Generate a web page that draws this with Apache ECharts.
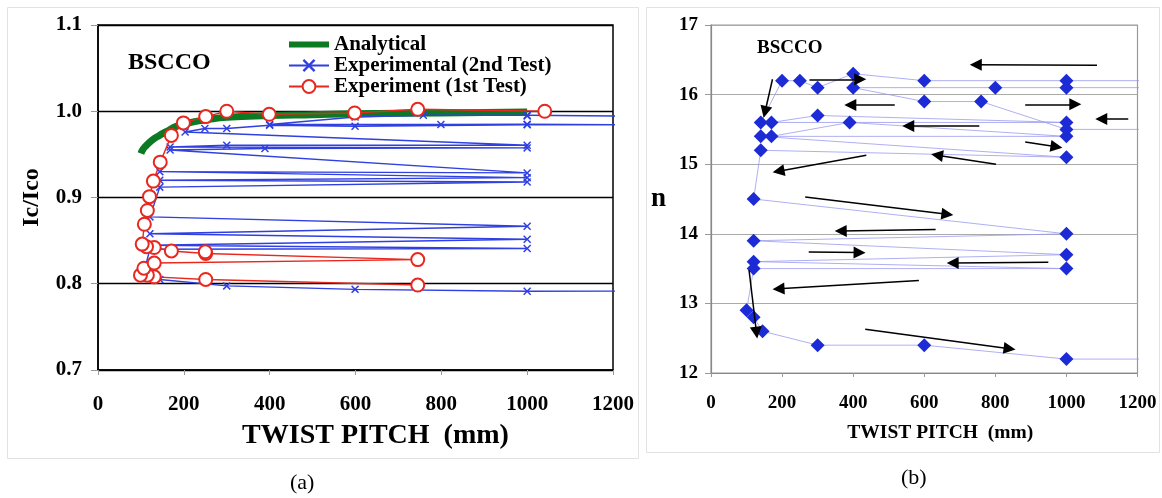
<!DOCTYPE html>
<html>
<head>
<meta charset="utf-8">
<script src="https://cdn.jsdelivr.net/npm/echarts@6/dist/echarts.min.js"></script>
<style>
  html, body { margin: 0; padding: 0; background: #fff; }
  #main { width: 1162px; height: 498px; }
</style>
</head>
<body>
<div id="main"></div>
<script>
// (a) Ic/Ico vs twist pitch
var analyticalX = [100, 105, 110, 120, 130, 140, 150, 165, 180, 200, 225, 250, 300, 400, 500, 600, 800, 1000];
var analyticalY = [0.951, 0.956, 0.959, 0.964, 0.968, 0.971, 0.974, 0.978, 0.982, 0.985, 0.988, 0.990, 0.993, 0.995, 0.996, 0.997, 0.998, 0.999];

var test2X = [1216, 1000, 599, 300, 144, 121, 106, 121, 1000, 125, 1000, 121, 1000, 121, 144, 1000, 144, 1000, 144, 1000,
  168, 389, 1000, 168, 300, 1000, 203, 249, 300, 400, 599, 1000, 1216, 1000, 799, 400, 599, 758, 1000, 1000, 1216];
var test2Y = [0.7914, 0.7913, 0.7935, 0.7975, 0.805, 0.810, 0.812, 0.840, 0.8408, 0.8447, 0.8516, 0.858, 0.8667, 0.8775, 0.912, 0.918, 0.920, 0.923, 0.930, 0.9285,
  0.955, 0.9568, 0.9575, 0.9586, 0.9606, 0.9605, 0.976, 0.980, 0.980, 0.9838, 0.9826, 0.9844, 0.9844, 0.985, 0.9846, 0.9846, 0.9934, 0.9954, 0.9954, 0.9945, 0.9945];

var test1X = [745, 251, 131, 115, 99, 107, 131, 745, 251, 250, 171, 131, 113, 103, 108, 115, 120, 129, 145, 171, 199, 251, 300, 399, 598, 745, 1041];
var test1Y = [0.7985, 0.805, 0.808, 0.810, 0.810, 0.818, 0.824, 0.828, 0.835, 0.837, 0.838, 0.842, 0.843, 0.846, 0.869, 0.885, 0.901, 0.919, 0.941, 0.972, 0.9865, 0.9938, 1.0, 0.9965, 0.998, 1.0023, 1.0];

// (b) n vs twist pitch
var nPath1X = [1218, 1000, 600, 400, 300, 250, 200, 140, 1000, 300, 170, 170, 390, 1000, 140, 1000, 140, 120, 1000, 120, 1000, 120, 1000, 120, 100, 120, 145, 300, 600, 1000, 1218];
var nPath1Y = [16.2, 16.2, 16.2, 16.3, 16.1, 16.2, 16.2, 15.6, 15.6, 15.7, 15.6, 15.4, 15.6, 15.4, 15.4, 15.1, 15.2, 14.5, 14.0, 13.9, 13.7, 13.6, 13.5, 13.5, 12.9, 12.8, 12.6, 12.4, 12.4, 12.2, 12.2];
var nPath2X = [1218, 1000, 800, 400, 600, 760, 1000, 1218];
var nPath2Y = [16.1, 16.1, 16.1, 16.1, 15.9, 15.9, 15.5, 15.5];

// arrows: [x1, n1, x2, n2]
var arrowsB = [
  [1086, 16.42, 745, 16.43],
  [277, 16.22, 420, 16.22],
  [517, 15.85, 392, 15.85],
  [884, 15.86, 1025, 15.86],
  [1174, 15.65, 1098, 15.65],
  [755, 15.55, 555, 15.55],
  [884, 15.32, 972, 15.25],
  [802, 15.0, 636, 15.13],
  [437, 15.13, 190, 14.9],
  [173, 16.22, 152, 15.75],
  [265, 14.53, 665, 14.28],
  [632, 14.06, 365, 14.04],
  [275, 13.74, 418, 13.73],
  [949, 13.59, 680, 13.58],
  [585, 13.33, 190, 13.21],
  [107, 13.48, 128, 12.58],
  [434, 12.63, 840, 12.35]
];

var serif = 'Liberation Serif';
var xMark = 'path://M0,1.3L1.3,0L5,3.7L8.7,0L10,1.3L6.3,5L10,8.7L8.7,10L5,6.3L1.3,10L0,8.7L3.7,5Z';

function pairs(xs, ys) {
  return xs.map(function (x, i) {
    return x > 1200 ? { value: [x, ys[i]], symbol: 'none' } : [x, ys[i]];
  });
}

function plain(v) {
  return String(v);
}

var chart = echarts.init(document.getElementById('main'));

var option = {
  backgroundColor: '#fff',
  animation: false,
  textStyle: { fontFamily: serif },
  grid: [
    { left: 98, top: 25, width: 515, height: 345, show: true, borderColor: '#000', borderWidth: 1.5, backgroundColor: 'transparent' },
    { left: 711, top: 25, width: 426.5, height: 348, show: true, borderColor: '#999', borderWidth: 1.2, backgroundColor: 'transparent' }
  ],
  legend: {
    data: [
      { name: 'Analytical', itemStyle: { opacity: 0 }, lineStyle: { width: 6 } },
      'Experimental (2nd Test)',
      'Experiment (1st Test)'
    ],
    orient: 'vertical',
    left: 286,
    top: 34,
    itemWidth: 40,
    itemHeight: 16,
    itemGap: 0,
    padding: 0,
    selectedMode: false,
    textStyle: { fontFamily: serif, fontWeight: 'bold', fontSize: 21, color: '#000', lineHeight: 20 }
  },
  xAxis: [
    {
      gridIndex: 0, type: 'value', min: 0, max: 1200, interval: 200,
      name: 'TWIST PITCH  (mm)', nameLocation: 'middle', nameGap: 52,
      nameTextStyle: { fontFamily: serif, fontWeight: 'bold', fontSize: 28, color: '#000', padding: [0, 0, 0, 40] },
      axisLine: { lineStyle: { color: '#000', width: 1.5 } },
      axisTick: { show: true, length: 5, lineStyle: { color: '#999' } },
      axisLabel: { fontFamily: serif, fontWeight: 'bold', fontSize: 21, color: '#000', margin: 24, formatter: plain },
      splitLine: { show: false }
    },
    {
      gridIndex: 1, type: 'value', min: 0, max: 1200, interval: 200,
      name: 'TWIST PITCH  (mm)', nameLocation: 'middle', nameGap: 50,
      nameTextStyle: { fontFamily: serif, fontWeight: 'bold', fontSize: 19.5, color: '#000', padding: [0, 0, 0, 32] },
      axisLine: { lineStyle: { color: '#888', width: 1.2 } },
      axisTick: { show: true, length: 4, lineStyle: { color: '#999' } },
      axisLabel: { fontFamily: serif, fontWeight: 'bold', fontSize: 19, color: '#000', margin: 21, formatter: plain },
      splitLine: { show: false }
    }
  ],
  yAxis: [
    {
      gridIndex: 0, type: 'value', min: 0.7, max: 1.1, interval: 0.1,
      name: 'Ic/Ico', nameLocation: 'middle', nameGap: 54, nameRotate: 90,
      nameTextStyle: { fontFamily: serif, fontWeight: 'bold', fontSize: 24, color: '#000' },
      axisLine: { show: true, lineStyle: { color: '#000', width: 1.5 } },
      axisTick: { show: true, length: 7, lineStyle: { color: '#999' } },
      axisLabel: { fontFamily: serif, fontWeight: 'bold', fontSize: 21, color: '#000', margin: 16,
        formatter: function (v) { return v.toFixed(1); } },
      splitLine: { show: true, lineStyle: { color: '#000', width: 1.3 } }
    },
    {
      gridIndex: 1, type: 'value', min: 12, max: 17, interval: 1,
      name: 'n', nameLocation: 'middle', nameGap: 45, nameRotate: 0,
      nameTextStyle: { fontFamily: serif, fontWeight: 'bold', fontSize: 27, color: '#000' },
      axisLine: { show: true, lineStyle: { color: '#888', width: 1.2 } },
      axisTick: { show: true, length: 6, lineStyle: { color: '#999' } },
      axisLabel: { fontFamily: serif, fontWeight: 'bold', fontSize: 19, color: '#000', margin: 13 },
      splitLine: { show: true, lineStyle: { color: '#aaa', width: 1 } }
    }
  ],
  series: [
    {
      name: 'Analytical', type: 'line', xAxisIndex: 0, yAxisIndex: 0, z: 2,
      data: pairs(analyticalX, analyticalY), showSymbol: false, symbol: 'none', smooth: true,
      lineStyle: { color: '#0b7a22', width: 7 }, itemStyle: { color: '#0b7a22' }
    },
    {
      name: 'Experimental (2nd Test)', type: 'line', xAxisIndex: 0, yAxisIndex: 0, z: 3, clip: false,
      data: pairs(test2X, test2Y), symbol: xMark, symbolSize: 8,
      lineStyle: { color: '#2f3fe0', width: 1.4 }, itemStyle: { color: '#2f3fe0' }
    },
    {
      name: 'Experiment (1st Test)', type: 'line', xAxisIndex: 0, yAxisIndex: 0, z: 4, clip: false,
      data: pairs(test1X, test1Y), symbol: 'emptyCircle', symbolSize: 13,
      lineStyle: { color: '#e8281e', width: 1.4 }, itemStyle: { color: '#e8281e', borderWidth: 1.5 }
    },
    {
      name: 'n1', type: 'line', xAxisIndex: 1, yAxisIndex: 1, clip: false,
      data: pairs(nPath1X, nPath1Y), symbol: 'diamond', symbolSize: 14,
      lineStyle: { color: '#9a9af0', width: 0.8 }, itemStyle: { color: '#1c2bd6' }
    },
    {
      name: 'n2', type: 'line', xAxisIndex: 1, yAxisIndex: 1, clip: false,
      data: pairs(nPath2X, nPath2Y), symbol: 'diamond', symbolSize: 14,
      lineStyle: { color: '#9a9af0', width: 0.8 }, itemStyle: { color: '#1c2bd6' },
      markLine: {
        silent: true,
        symbol: ['none', 'triangle'],
        symbolSize: 12,
        label: { show: false },
        lineStyle: { color: '#000', width: 1.5, type: 'solid', opacity: 1 },
        itemStyle: { color: '#000' },
        emphasis: { disabled: true },
        data: arrowsB.map(function (a) {
          return [{ coord: [a[0], a[1]] }, { coord: [a[2], a[3]] }];
        })
      }
    }
  ],
  graphic: [
    { type: 'rect', shape: { x: 7.5, y: 7.5, width: 631, height: 451 }, style: { fill: 'none', stroke: '#e2e2e2', lineWidth: 1 }, z: -1 },
    { type: 'rect', shape: { x: 646.5, y: 7.5, width: 513, height: 445 }, style: { fill: 'none', stroke: '#e2e2e2', lineWidth: 1 }, z: -1 },
    { type: 'text', left: 128, top: 51, style: { text: 'BSCCO', font: 'bold 24px "Liberation Serif"', fill: '#000' } },
    { type: 'text', left: 757, top: 39, style: { text: 'BSCCO', font: 'bold 19px "Liberation Serif"', fill: '#000' } },
    { type: 'text', left: 290, top: 472, style: { text: '(a)', font: '22px "Liberation Serif"', fill: '#000' } },
    { type: 'text', left: 901, top: 467, style: { text: '(b)', font: '22px "Liberation Serif"', fill: '#000' } }
  ]
};

chart.setOption(option);
</script>
</body>
</html>
